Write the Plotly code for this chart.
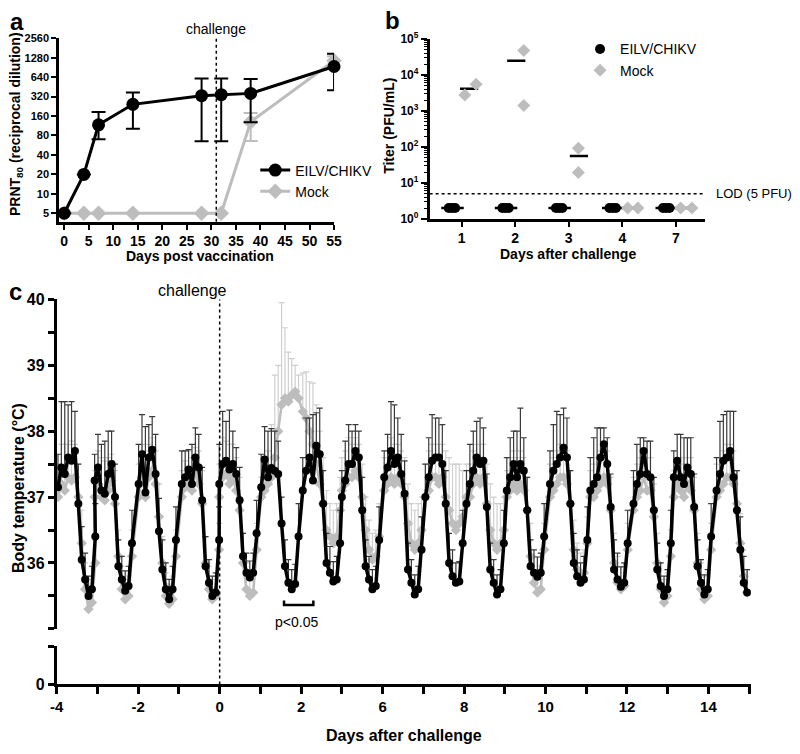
import plotly.graph_objects as go

W, H = 800, 754
FONT = "Arial, 'Liberation Sans', sans-serif"
GRAY = "#bdbdbd"

# ---------------- Panel a : PRNT80 ----------------
A_DAYS = [0, 4, 7, 14, 28, 32, 38, 55]
A_EILV = [5, 20, 117, 243, 331, 343, 359, 937]
A_EILV_HI = [None, None, 185, 370, 609, 609, 602, 1480]
A_EILV_LO = [None, None, 70, 102, 65, 65, 128, 402]
A_MOCK = [5, 5, 5, 5, 5, 5, 130, 1150]
A_MOCK_HI = [None, None, None, None, None, None, 178, 1350]
A_MOCK_LO = [None, None, None, None, None, None, 66, 1000]
A_YTICKS = [5, 10, 20, 40, 80, 160, 320, 640, 1280, 2560]
A_XTICKS = [0, 5, 10, 15, 20, 25, 30, 35, 40, 45, 50, 55]
A_CHALLENGE = 31

# ---------------- Panel b : viremia ----------------
B_DAYS = ["1", "2", "3", "4", "7"]
B_EILV = [[2, 2, 2], [2, 2, 2], [2, 2, 2], [2, 2, 2], [2, 2, 2]]
B_MOCK = [[2770, 5530], [48000, 1420], [92, 19.4], [2, 2], [2, 2]]
B_LOD = 5
B_YTICKS = [1, 10, 100, 1000, 10000, 100000]

# ---------------- Panel c : body temperature ----------------
C_HOURS = [0, 2, 4, 6, 8, 10, 12, 14, 16, 18, 20, 22]
C_START = [-3.97, -3.07, -1.99, -0.93, -0.01, 1.02, 2.04, 3.0, 4.04,
           5.05, 6.06, 7.05, 8.11, 9.10, 10.16, 11.15, 12.2]
C_EILV = [
    [37.15, 37.45, 37.35, 37.6, 37.55, 37.7, 36.9, 36.05, 35.75, 35.5, 35.6, 36.4],
    [37.25, 37.45, 37.1, 37.05, 37.35, 37.5, 37.0, 35.95, 35.75, 35.58, 35.65, 36.3],
    [37.2, 37.65, 37.07, 37.6, 37.72, 37.35, 36.48, 35.9, 35.6, 35.45, 35.6, 36.35],
    [37.2, 37.3, 37.42, 37.2, 37.6, 37.45, 36.95, 35.95, 35.7, 35.5, 35.55, 36.35],
    [37.2, 37.5, 37.55, 37.42, 37.5, 37.35, 36.95, 36.1, 35.85, 35.78, 35.85, 36.45],
    [37.15, 37.57, 37.3, 37.44, 37.4, 37.35, 36.6, 35.95, 35.7, 35.6, 35.68, 36.4],
    [37.1, 37.4, 37.6, 37.25, 37.78, 37.65, 36.9, 36.0, 35.85, 35.72, 35.75, 36.3],
    [37.0, 37.25, 37.5, 37.5, 37.7, 37.6, 36.8, 35.95, 35.75, 35.6, 35.65, 36.35],
    [37.3, 37.45, 37.7, 37.5, 37.6, 37.35, 37.05, 35.9, 35.7, 35.52, 35.6, 36.2],
    [37.0, 37.3, 37.55, 37.6, 37.6, 37.5, 36.9, 36.0, 35.8, 35.7, 35.72, 36.3],
    [36.9, 37.2, 37.4, 37.6, 37.5, 37.55, 36.85, 35.9, 35.7, 35.52, 35.6, 36.3],
    [37.1, 37.3, 37.5, 37.3, 37.5, 37.4, 36.8, 35.95, 35.85, 35.79, 35.85, 36.4],
    [37.2, 37.4, 37.5, 37.6, 37.75, 37.6, 36.9, 36.0, 35.8, 35.7, 35.75, 36.35],
    [37.1, 37.2, 37.3, 37.6, 37.8, 37.5, 36.85, 35.9, 35.75, 35.64, 35.7, 36.3],
    [36.9, 37.2, 37.35, 37.7, 37.35, 37.3, 36.8, 35.9, 35.65, 35.5, 35.6, 36.3],
    [37.3, 37.55, 37.3, 37.2, 37.45, 37.35, 36.85, 35.95, 35.7, 35.52, 35.6, 36.4],
    [37.1, 37.35, 37.55, 37.6, 37.7, 37.3, 36.8, 36.2, 35.7, 35.55],
]
C_EILV_ERR = [
    [0.5, 1.0, 1.1, 0.8, 0.9, 0.6, 0.6, 0.5, 0.4, 0.3, 0.35, 0.5],
    [0.4, 0.5, 0.7, 0.8, 0.65, 0.5, 0.5, 0.4, 0.35, 0.3, 0.3, 0.5],
    [0.6, 0.6, 1.0, 0.5, 0.5, 0.6, 0.5, 0.45, 0.4, 0.3, 0.35, 0.5],
    [0.5, 0.4, 0.3, 0.6, 0.45, 0.5, 0.5, 0.45, 0.35, 0.3, 0.3, 0.5],
    [0.6, 0.8, 0.6, 0.9, 0.5, 0.4, 0.5, 0.35, 0.3, 0.25, 0.3, 0.5],
    [0.5, 0.5, 0.7, 0.6, 0.6, 0.5, 0.4, 0.4, 0.35, 0.3, 0.3, 0.5],
    [0.5, 0.8, 0.6, 1.0, 0.5, 0.7, 0.5, 0.45, 0.4, 0.3, 0.35, 0.5],
    [0.4, 0.6, 0.6, 0.5, 0.4, 0.4, 0.5, 0.4, 0.35, 0.3, 0.3, 0.5],
    [0.4, 0.5, 0.75, 0.9, 0.6, 0.6, 0.5, 0.4, 0.35, 0.3, 0.35, 0.5],
    [0.5, 0.6, 0.7, 0.6, 0.6, 0.6, 0.5, 0.45, 0.4, 0.3, 0.3, 0.5],
    [0.5, 0.6, 0.6, 0.55, 0.7, 0.5, 0.5, 0.4, 0.35, 0.3, 0.3, 0.5],
    [0.5, 0.6, 0.5, 0.7, 0.85, 0.5, 0.5, 0.4, 0.35, 0.3, 0.3, 0.5],
    [0.5, 0.7, 0.8, 0.65, 0.6, 0.6, 0.5, 0.45, 0.4, 0.3, 0.35, 0.5],
    [0.5, 0.7, 0.75, 0.45, 0.25, 0.4, 0.5, 0.45, 0.4, 0.3, 0.3, 0.5],
    [0.5, 0.6, 0.55, 0.2, 0.5, 0.55, 0.5, 0.4, 0.35, 0.3, 0.3, 0.5],
    [0.4, 0.4, 0.65, 0.7, 0.45, 0.55, 0.5, 0.4, 0.35, 0.3, 0.3, 0.5],
    [0.5, 0.8, 0.7, 0.7, 0.6, 1.0, 0.6, 0.5, 0.4, 0.35],
]
C_MOCK = [
    [37.0, 37.2, 37.1, 37.3, 37.25, 37.3, 37.0, 36.3, 35.6, 35.3, 35.4, 36.0],
    [37.0, 37.2, 37.0, 36.95, 37.1, 37.25, 36.9, 36.1, 35.6, 35.45, 35.5, 36.1],
    [37.0, 37.3, 37.0, 37.3, 37.4, 37.2, 36.7, 36.0, 35.5, 35.38, 35.45, 36.1],
    [37.0, 37.15, 37.2, 37.1, 37.35, 37.2, 36.9, 36.0, 35.6, 35.45, 35.5, 36.2],
    [37.0, 37.3, 37.35, 37.2, 37.3, 37.1, 36.8, 36.0, 35.6, 35.5, 35.55, 36.2],
    [37.0, 37.1, 37.2, 37.3, 37.6, 38.0, 38.4, 38.5, 38.45, 38.55, 38.6, 38.5],
    [38.3, 38.2, 38.0, 37.8, 37.5, 37.2, 36.9, 36.5, 36.4, 36.3, 36.4, 36.8],
    [37.1, 37.2, 37.3, 37.3, 37.4, 37.3, 37.0, 36.5, 36.2, 36.05, 36.1, 36.4],
    [37.1, 37.2, 37.3, 37.2, 37.3, 37.2, 37.0, 36.6, 36.3, 36.2, 36.3, 36.5],
    [37.0, 37.1, 37.3, 37.3, 37.2, 37.3, 37.0, 36.8, 36.6, 36.5, 36.6, 36.7],
    [37.0, 37.0, 37.2, 37.3, 37.2, 37.3, 36.9, 36.5, 36.3, 36.2, 36.3, 36.5],
    [37.0, 37.1, 37.2, 37.1, 37.2, 37.1, 36.8, 36.1, 35.7, 35.55, 35.6, 36.2],
    [37.0, 37.1, 37.2, 37.3, 37.3, 37.2, 36.9, 36.2, 35.9, 35.8, 35.85, 36.3],
    [37.0, 37.0, 37.1, 37.2, 37.3, 37.2, 36.8, 36.0, 35.7, 35.6, 35.65, 36.2],
    [36.8, 37.0, 37.1, 37.3, 37.1, 37.1, 36.7, 36.0, 35.6, 35.4, 35.5, 36.1],
    [37.0, 37.2, 37.1, 37.0, 37.2, 37.1, 36.8, 36.0, 35.6, 35.45, 35.5, 36.2],
    [37.0, 37.1, 37.2, 37.3, 37.3, 37.2, 36.9, 36.3, 35.8, 35.55],
]
C_MOCK_ERR = [
    [0.5, 0.6, 0.7, 0.5, 0.6, 0.5, 0.5, 0.5, 0.4, 0.35, 0.35, 0.4],
    [0.4, 0.5, 0.6, 0.6, 0.5, 0.4, 0.5, 0.4, 0.35, 0.3, 0.3, 0.4],
    [0.5, 0.5, 0.7, 0.5, 0.5, 0.5, 0.5, 0.4, 0.35, 0.3, 0.35, 0.4],
    [0.4, 0.4, 0.5, 0.5, 0.4, 0.5, 0.5, 0.4, 0.35, 0.3, 0.3, 0.4],
    [0.5, 0.6, 0.5, 0.6, 0.5, 0.5, 0.5, 0.45, 0.4, 0.3, 0.3, 0.4],
    [0.3, 0.4, 0.5, 0.8, 1.25, 1.0, 1.55, 1.07, 0.75, 0.55, 0.4, 0.35],
    [0.58, 0.7, 0.75, 0.93, 0.9, 0.8, 0.7, 0.6, 0.5, 0.5, 0.5, 0.5],
    [0.5, 0.5, 0.6, 0.5, 0.5, 0.5, 0.5, 0.5, 0.45, 0.4, 0.4, 0.5],
    [0.5, 0.5, 0.6, 0.6, 0.5, 0.5, 0.6, 0.6, 0.6, 0.6, 0.6, 0.5],
    [0.5, 0.6, 0.5, 0.5, 0.6, 0.5, 0.7, 0.8, 0.9, 1.0, 0.9, 0.7],
    [0.5, 0.5, 0.5, 0.5, 0.6, 0.5, 0.6, 0.7, 0.7, 0.7, 0.6, 0.5],
    [0.4, 0.5, 0.5, 0.5, 0.5, 0.5, 0.5, 0.5, 0.4, 0.35, 0.35, 0.4],
    [0.5, 0.5, 0.5, 0.5, 0.5, 0.5, 0.5, 0.45, 0.4, 0.35, 0.35, 0.4],
    [0.4, 0.5, 0.5, 0.5, 0.4, 0.5, 0.5, 0.45, 0.4, 0.35, 0.35, 0.4],
    [0.5, 0.5, 0.5, 0.4, 0.5, 0.5, 0.5, 0.45, 0.4, 0.35, 0.35, 0.4],
    [0.4, 0.4, 0.5, 0.5, 0.4, 0.5, 0.5, 0.45, 0.4, 0.35, 0.35, 0.4],
    [0.5, 0.5, 0.5, 0.5, 0.5, 0.5, 0.5, 0.45, 0.4, 0.35],
]
C_XTICKVALS = [-4, -2, 0, 2, 4, 6, 8, 10, 12]
C_XTICKTEXT = ["-4", "-2", "0", "2", "6", "8", "10", "12", "14"]
C_YTICKS = [36, 37, 38, 39, 40]
C_SIG = (1.58, 2.30)

# ---------------------------------------------------------------
def px_x(p):
    return p / W


def px_y(p):
    return 1 - p / H


fig = go.Figure()

# ---- panel a traces
def err(hi, lo, mean):
    plus = [None if h is None else h - m for h, m in zip(hi, mean)]
    minus = [None if l is None else m - l for l, m in zip(lo, mean)]
    return plus, minus

mp, mm = err(A_MOCK_HI, A_MOCK_LO, A_MOCK)
fig.add_trace(go.Scatter(
    x=A_DAYS, y=A_MOCK, name="Mock", mode="lines+markers", xaxis="x", yaxis="y",
    line=dict(color=GRAY, width=3), marker=dict(symbol="diamond", size=12, color=GRAY),
    error_y=dict(type="data", symmetric=False, array=mp, arrayminus=mm,
                 color=GRAY, thickness=2, width=7),
    legend="legend", legendrank=2, cliponaxis=False))
ep, em = err(A_EILV_HI, A_EILV_LO, A_EILV)
fig.add_trace(go.Scatter(
    x=A_DAYS, y=A_EILV, name="EILV/CHIKV", mode="lines+markers", xaxis="x", yaxis="y",
    line=dict(color="black", width=3), marker=dict(symbol="circle", size=13, color="black"),
    error_y=dict(type="data", symmetric=False, array=ep, arrayminus=em,
                 color="black", thickness=2, width=7),
    legend="legend", legendrank=1, cliponaxis=False))

# ---- panel b traces
EILV_JIT = [-0.24, -0.18, -0.12]
MOCK_JIT = [[0.06, 0.27], [0.16, 0.16], [0.18, 0.18], [0.10, 0.29], [0.09, 0.30]]
EILV_LINE = (-0.17, 0.21)
MOCK_LINE_C = [0.14, 0.02, 0.19, 0.20, 0.20]
MOCK_LINE_HW = 0.17

for i, vals in enumerate(B_EILV):
    m = sum(vals) / len(vals)
    fig.add_trace(go.Scatter(x=[i + EILV_LINE[0] - EILV_LINE[1], i + EILV_LINE[0] + EILV_LINE[1]],
                             y=[m, m], mode="lines", line=dict(color="black", width=2.5),
                             xaxis="x2", yaxis="y2", showlegend=False))
for i, vals in enumerate(B_MOCK):
    m = sum(vals) / len(vals)
    c = MOCK_LINE_C[i]
    fig.add_trace(go.Scatter(x=[i + c - MOCK_LINE_HW, i + c + MOCK_LINE_HW], y=[m, m],
                             mode="lines", line=dict(color="black", width=2.5),
                             xaxis="x2", yaxis="y2", showlegend=False))

bx, by = [], []
for i, vals in enumerate(B_EILV):
    for j, v in enumerate(vals):
        bx.append(i + EILV_JIT[j]); by.append(v)
mx, my = [], []
for i, vals in enumerate(B_MOCK):
    for j, v in enumerate(vals):
        mx.append(i + MOCK_JIT[i][j]); my.append(v)
fig.add_trace(go.Scatter(x=bx, y=by, mode="markers", name="EILV/CHIKV",
                         marker=dict(symbol="circle", size=10, color="black"),
                         xaxis="x2", yaxis="y2", legend="legend2", legendrank=1))
fig.add_trace(go.Scatter(x=mx, y=my, mode="markers", name="Mock",
                         marker=dict(symbol="diamond", size=10, color=GRAY),
                         xaxis="x2", yaxis="y2", legend="legend2", legendrank=2))
fig.add_trace(go.Scatter(x=[-0.597, 4.55], y=[B_LOD, B_LOD], mode="lines",
                         line=dict(color="black", width=1.5, dash="dot"),
                         xaxis="x2", yaxis="y2", showlegend=False, cliponaxis=False))

# ---- panel c traces
def flat(starts, table, hours):
    xs, ys = [], []
    for s, row in zip(starts, table):
        for h, v in zip(hours, row):
            xs.append(s + h / 24.0); ys.append(v)
    return xs, ys

cx, cm = flat(C_START, C_MOCK, C_HOURS)
_, cme = flat(C_START, C_MOCK_ERR, C_HOURS)
fig.add_trace(go.Scatter(
    x=cx, y=cm, mode="lines+markers", xaxis="x3", yaxis="y3", showlegend=False,
    line=dict(color=GRAY, width=2.5), marker=dict(symbol="diamond", size=8, color=GRAY),
    error_y=dict(type="data", symmetric=False, array=cme, arrayminus=[0] * len(cme),
                 color="#cfcfcf", thickness=1.2, width=3)))
ex, ev = flat(C_START, C_EILV, C_HOURS)
_, eve = flat(C_START, C_EILV_ERR, C_HOURS)
fig.add_trace(go.Scatter(
    x=ex, y=ev, mode="lines+markers", xaxis="x3", yaxis="y3", showlegend=False,
    line=dict(color="black", width=3.5), marker=dict(symbol="circle", size=8, color="black"),
    error_y=dict(type="data", symmetric=False, array=eve, arrayminus=[0] * len(eve),
                 color="#3a3a3a", thickness=1.2, width=3)))
# dummy trace for the lower (broken) y segment
fig.add_trace(go.Scatter(x=[-4], y=[0], mode="markers", marker=dict(opacity=0),
                         xaxis="x3", yaxis="y4", showlegend=False, hoverinfo="skip"))

# ---------------------------------------------------------------
axis_common = dict(showline=True, linecolor="black", showgrid=False, zeroline=False,
                   ticks="outside", tickcolor="black", mirror=False)

fig.update_layout(
    width=W, height=H, margin=dict(l=0, r=0, t=0, b=0),
    paper_bgcolor="white", plot_bgcolor="white",
    font=dict(family=FONT, color="black"),
    xaxis=dict(**axis_common, domain=[px_x(53), px_x(333.3)], range=[-1.06, 55],
               tickvals=A_XTICKS, ticklen=5, tickwidth=2, linewidth=2.5,
               tickfont=dict(size=14, weight="bold"), anchor="y"),
    yaxis=dict(**axis_common, type="log", domain=[px_y(218), px_y(30)],
               range=[0.567, 3.4082], tickvals=A_YTICKS, ticktext=[str(v) for v in A_YTICKS],
               ticklen=5, tickwidth=2, linewidth=2.5,
               tickfont=dict(size=11, weight="bold"), anchor="x"),
    xaxis2=dict(**axis_common, domain=[px_x(430.7), px_x(711.7)], range=[-0.597, 4.55],
                tickvals=list(range(len(B_DAYS))), ticktext=B_DAYS, ticklen=5, tickwidth=2,
                linewidth=2.5, tickfont=dict(size=14, weight="bold"), anchor="y2"),
    yaxis2=dict(**axis_common, type="log", domain=[px_y(215), px_y(30.7)], range=[0, 5],
                tickvals=B_YTICKS,
                ticktext=["10<sup>%d</sup>" % k for k in range(len(B_YTICKS))],
                ticklen=6, tickwidth=2, linewidth=2.5,
                tickfont=dict(size=12, weight="bold"), anchor="x2",
                minor=dict(ticks="outside", ticklen=3, tickwidth=1, tickcolor="black",
                           tickmode="array",
                           tickvals=[m * 10 ** k for k in range(5) for m in range(2, 10)])),
    xaxis3=dict(**axis_common, domain=[px_x(50.7), px_x(758)], range=[-4, 13.04],
                tickvals=C_XTICKVALS, ticktext=C_XTICKTEXT, ticklen=7, tickwidth=2.5,
                linewidth=3, tickfont=dict(size=15, weight="bold"), anchor="y4",
                minor=dict(ticks="outside", ticklen=7, tickwidth=2.5, tickcolor="black",
                           dtick=1, tick0=-4)),
    yaxis3=dict(**axis_common, domain=[px_y(635), px_y(297.5)], range=[35, 40],
                tickvals=C_YTICKS, ticktext=[str(v) for v in C_YTICKS],
                ticklen=6, tickwidth=2.5, linewidth=3, tickfont=dict(size=16, weight="bold"),
                anchor="x3",
                minor=dict(ticks="outside", ticklen=6, tickwidth=2.5, tickcolor="black",
                           dtick=0.5, tick0=35)),
    yaxis4=dict(**axis_common, domain=[px_y(692), px_y(653)], range=[0, 1],
                tickvals=[0], ticktext=["0"], ticklen=6, tickwidth=2.5, linewidth=3,
                tickfont=dict(size=16, weight="bold"), anchor="x3",
                minor=dict(ticks="outside", ticklen=6, tickwidth=2.5, tickcolor="black",
                           dtick=1, tick0=0)),
    legend=dict(x=px_x(253), y=px_y(149), xanchor="left", yanchor="top",
                bgcolor="rgba(0,0,0,0)", font=dict(size=14), itemsizing="trace",
                tracegroupgap=0),
    legend2=dict(x=px_x(584), y=px_y(25), xanchor="left", yanchor="top",
                 bgcolor="rgba(0,0,0,0)", font=dict(size=14), itemsizing="trace",
                 tracegroupgap=0),
)

shapes = [
    dict(type="line", xref="x", yref="paper", x0=A_CHALLENGE, x1=A_CHALLENGE,
         y0=px_y(218), y1=px_y(30), line=dict(color="black", width=1.5, dash="dot")),
    dict(type="line", xref="x3", yref="paper", x0=0, x1=0,
         y0=px_y(692), y1=px_y(297.5), line=dict(color="black", width=1.5, dash="dot")),
    dict(type="path", xref="x3", yref="y3",
         path="M %f,35.43 L %f,35.36 L %f,35.36 L %f,35.43" % (C_SIG[0], C_SIG[0], C_SIG[1], C_SIG[1]),
         line=dict(color="black", width=2.5)),
]
fig.update_layout(shapes=shapes)

ann = [
    dict(text="<b>a</b>", x=px_x(10), y=px_y(13), size=24),
    dict(text="<b>b</b>", x=px_x(393), y=px_y(12), size=24),
    dict(text="<b>c</b>", x=px_x(9), y=px_y(289), size=24),
    dict(text="challenge", x=px_x(212.5), y=px_y(20), size=14),
    dict(text="<b>Days post vaccination</b>", x=px_x(197), y=px_y(253), size=14),
    dict(text="<b>PRNT<sub>80</sub> (reciprocal dilution)</b>", x=px_x(9), y=px_y(118),
         size=14, angle=-90),
    dict(text="<b>Titer (PFU/mL)</b>", x=px_x(389), y=px_y(120), size=14, angle=-90),
    dict(text="<b>Days after challenge</b>", x=px_x(572), y=px_y(251), size=14),
    dict(text="LOD (5 PFU)", x=px_x(720), y=px_y(189), size=13, xanchor="left"),
    dict(text="challenge", x=px_x(189.5), y=px_y(288), size=16),
    dict(text="p<0.05", x=px_x(295), y=px_y(628), size=14),
    dict(text="<b>Body temperature (°C)</b>", x=px_x(12), y=px_y(491), size=16, angle=-90),
    dict(text="<b>Days after challenge</b>", x=px_x(405), y=px_y(744), size=16),
]
for a in ann:
    fig.add_annotation(text=a["text"], x=a["x"], y=a["y"], xref="paper", yref="paper",
                       showarrow=False, xanchor=a.get("xanchor", "center"), yanchor="middle",
                       textangle=a.get("angle", 0),
                       font=dict(size=a["size"], family=FONT, color="black"))

fig.write_html("out.html", config={"displayModeBar": False},
               post_script="document.body.style.margin='0';document.body.style.overflow='hidden';")
